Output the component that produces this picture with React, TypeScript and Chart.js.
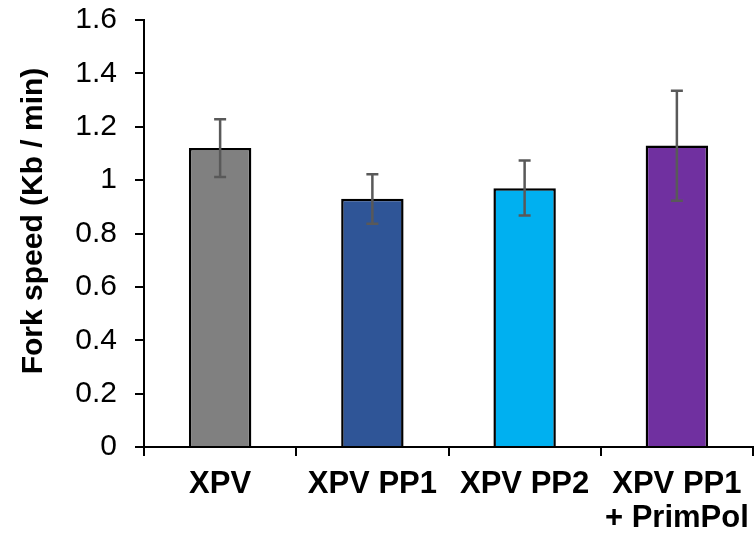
import React, { useEffect, useRef } from "react";
import { Chart, registerables } from "chart.js";

Chart.register(...registerables);

const categories: (string | string[])[] = ["XPV", "XPV PP1", "XPV PP2", ["XPV PP1", "+ PrimPol"]];
const forkSpeed = [1.12, 0.93, 0.97, 1.13];
const errLow = [1.012, 0.837, 0.867, 0.923];
const errHigh = [1.228, 1.022, 1.074, 1.335];
const barColors = ["#808080", "#2F5597", "#00B0F0", "#7030A0"];
const yTitle = "Fork speed (Kb / min)";
const yMin = 0;
const yMax = 1.6;
const yStep = 0.2;

const FONT = "'Liberation Sans', Arial, sans-serif";

const errorBarPlugin = {
  id: "errorBars",
  afterDatasetsDraw(chart: any) {
    const meta = chart.getDatasetMeta(0);
    const yScale = chart.scales.y;
    const ctx = chart.ctx;
    ctx.save();
    ctx.strokeStyle = "#595959";
    ctx.lineWidth = 2.5;
    meta.data.forEach((bar: any, i: number) => {
      const x = bar.x;
      const yl = yScale.getPixelForValue(errLow[i]);
      const yh = yScale.getPixelForValue(errHigh[i]);
      ctx.beginPath();
      ctx.moveTo(x, yl);
      ctx.lineTo(x, yh);
      ctx.moveTo(x - 6, yl);
      ctx.lineTo(x + 6, yl);
      ctx.moveTo(x - 6, yh);
      ctx.lineTo(x + 6, yh);
      ctx.stroke();
    });
    ctx.restore();
  },
};

const yTitlePlugin = {
  id: "yTitle",
  afterDraw(chart: any) {
    const ctx = chart.ctx;
    ctx.save();
    ctx.translate(41.5, 221);
    ctx.rotate(-Math.PI / 2);
    ctx.font = `bold 30px ${FONT}`;
    ctx.fillStyle = "#000000";
    ctx.textAlign = "center";
    ctx.textBaseline = "alphabetic";
    ctx.fillText(yTitle, 0, 0);
    ctx.restore();
  },
};

export default function App() {
  const ref = useRef<HTMLCanvasElement | null>(null);
  useEffect(() => {
    if (!ref.current) return;
    const chart = new Chart(ref.current, {
      type: "bar",
      data: {
        labels: categories,
        datasets: [
          {
            data: forkSpeed,
            backgroundColor: barColors,
            borderColor: "#000000",
            borderWidth: 2.5,
            barPercentage: 0.41,
            categoryPercentage: 1,
          },
        ],
      },
      options: {
        responsive: false,
        animation: false,
        devicePixelRatio: 1,
        layout: { padding: { top: 20, right: 1, left: 0, bottom: 0 } },
        plugins: {
          legend: { display: false },
          tooltip: { enabled: false },
          title: { display: false },
        },
        scales: {
          x: {
            offset: true,
            grid: {
              display: true,
              drawOnChartArea: false,
              drawTicks: true,
              tickLength: 9,
              color: "#000000",
              lineWidth: 2,
              offset: true,
            },
            border: { display: true, color: "#000000", width: 2 },
            ticks: {
              color: "#000000",
              padding: 11,
              maxRotation: 0,
              autoSkip: false,
              font: { family: FONT, size: 31, weight: "bold", lineHeight: 1.1 },
            },
            afterFit(scale: any) {
              scale.height = 91;
              scale.paddingLeft = 0;
              scale.paddingRight = 0;
            },
          },
          y: {
            min: yMin,
            max: yMax,
            grid: {
              display: true,
              drawOnChartArea: false,
              drawTicks: true,
              tickLength: 9,
              color: "#000000",
              lineWidth: 2,
            },
            border: { display: true, color: "#000000", width: 2 },
            ticks: {
              stepSize: yStep,
              color: "#000000",
              padding: 18,
              font: { family: FONT, size: 30, lineHeight: 1 },
              callback: (v: any) => String(Math.round(Number(v) * 10) / 10),
            },
            afterFit(scale: any) {
              scale.width = 144;
              scale.paddingTop = 0;
              scale.paddingBottom = 0;
            },
          },
        },
      },
      plugins: [errorBarPlugin, yTitlePlugin],
    });
    return () => chart.destroy();
  }, []);
  return (
    <div style={{ position: "fixed", left: 0, top: 0, width: 754, height: 538, background: "#fff" }}>
      <canvas ref={ref} width={754} height={538} />
    </div>
  );
}
